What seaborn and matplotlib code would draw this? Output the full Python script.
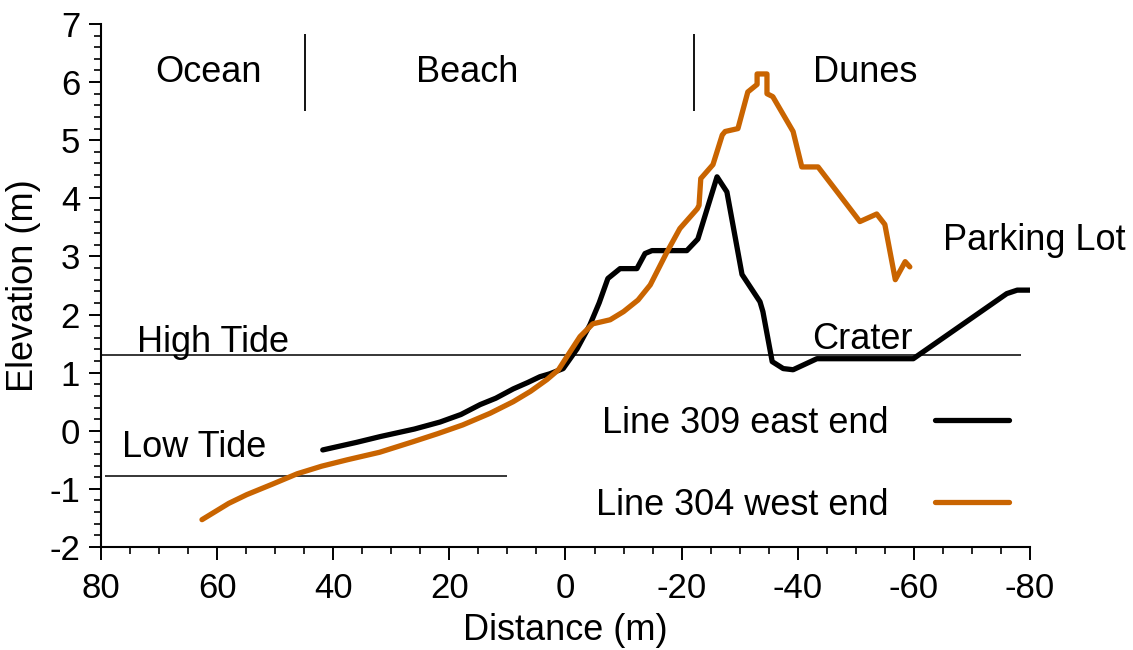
import numpy as np
import pandas as pd
import matplotlib
matplotlib.use("Agg")
import matplotlib.pyplot as plt
import seaborn as sns
from matplotlib.ticker import MultipleLocator

# Beach profile, Line 309 (east end)
east_dist = [41.8, 36.0, 31.9, 26.0, 21.6, 18.0, 14.7, 12.0, 9.0, 6.5, 4.4, 2.7,
             0.4, -2.0, -4.2, -5.8, -7.3, -9.4, -12.3, -13.7, -14.9, -20.9, -22.8,
             -26.1, -27.8, -30.4, -33.5, -34.0, -35.6, -37.5, -39.2, -43.3, -59.9,
             -76.0, -77.8, -80.0]
east_elev = [-0.33, -0.20, -0.10, 0.03, 0.15, 0.28, 0.45, 0.56, 0.72, 0.83, 0.93, 0.98,
             1.07, 1.41, 1.82, 2.20, 2.62, 2.79, 2.79, 3.05, 3.10, 3.10, 3.30,
             4.37, 4.11, 2.69, 2.22, 2.05, 1.19, 1.07, 1.05, 1.24, 1.24,
             2.36, 2.42, 2.42]

# Beach profile, Line 304 (west end)
west_dist = [62.6, 58.0, 54.9, 50.5, 46.2, 42.0, 37.6, 32.0, 26.3, 22.0, 17.7, 13.0,
             9.0, 6.0, 3.2, 1.2, -0.8, -2.5, -4.7, -7.7, -10.0, -12.5, -14.6, -17.5,
             -19.7, -22.7, -23.0, -23.3, -25.4, -27.0, -27.5, -29.7, -31.4, -33.0,
             -33.0, -34.7, -34.7, -35.7, -39.2, -40.7, -43.5, -46.8, -50.7, -53.6,
             -55.0, -56.8, -58.5, -59.3]
west_elev = [-1.53, -1.25, -1.10, -0.92, -0.74, -0.61, -0.50, -0.37, -0.19, -0.05, 0.10, 0.30,
             0.50, 0.68, 0.88, 1.05, 1.36, 1.62, 1.84, 1.91, 2.05, 2.25, 2.51, 3.08,
             3.48, 3.82, 3.88, 4.34, 4.58, 5.09, 5.15, 5.20, 5.83, 5.96,
             6.14, 6.14, 5.80, 5.75, 5.15, 4.54, 4.54, 4.11, 3.60, 3.73,
             3.55, 2.60, 2.91, 2.82]

series_names = ["Line 309 east end", "Line 304 west end"]
series_colors = ["#000000", "#C96400"]

# Tide levels
tide_names = ["High Tide", "Low Tide"]
tide_levels = [1.3, -0.78]
tide_start = [80.0, 79.3]
tide_end = [-78.5, 10.0]

# Zone boundaries and names
zone_bounds = [44.8, -22.2]
zone_names = ["Ocean", "Beach", "Dunes"]
zone_label_x = [70.7, 25.8, -42.6]

df = pd.concat([
    pd.DataFrame({"Distance": east_dist, "Elevation": east_elev, "Line": series_names[0]}),
    pd.DataFrame({"Distance": west_dist, "Elevation": west_elev, "Line": series_names[1]}),
], ignore_index=True)

sns.set_theme(style="ticks")
plt.rcParams["font.family"] = ["Liberation Sans", "DejaVu Sans"]
plt.rcParams.update({
    "axes.unicode_minus": False,
    "text.color": "black",
    "axes.labelcolor": "black",
    "xtick.color": "black",
    "ytick.color": "black",
})

FS = 26
LW = 3.8

fig = plt.figure(figsize=(11.33, 6.5), dpi=100)
ax = fig.add_axes([0.0891, 0.1585, 0.8200, 0.8046])

# Tide reference lines
for lvl, x0, x1 in zip(tide_levels, tide_start, tide_end):
    ax.hlines(lvl, x0, x1, color="black", lw=1.1, zorder=1)

# Zone separators
ax.vlines(zone_bounds, 5.5, 6.82, color="black", lw=1.3)

sns.lineplot(data=df, x="Distance", y="Elevation", hue="Line",
             palette=dict(zip(series_names, series_colors)),
             sort=False, estimator=None, lw=LW, ax=ax, zorder=3)
for line in ax.get_lines():
    line.set_solid_capstyle("round")
    line.set_solid_joinstyle("round")

txt = dict(fontsize=FS, color="black", va="baseline", ha="left")
for name, x in zip(zone_names, zone_label_x):
    ax.text(x, 6.0, name, **txt)
ax.text(73.8, 1.36, tide_names[0], **txt)
ax.text(76.4, -0.45, tide_names[1], **txt)
ax.text(-42.5, 1.41, "Crater", **txt)
ax.text(-65.0, 3.11, "Parking Lot", **txt)

ax.set_xlim(80, -80)
ax.set_ylim(-2, 7)
ax.xaxis.set_major_locator(MultipleLocator(20))
ax.xaxis.set_minor_locator(MultipleLocator(5))
ax.yaxis.set_major_locator(MultipleLocator(1))
ax.yaxis.set_minor_locator(MultipleLocator(0.2))

ax.tick_params(which="major", length=9, width=1.4, labelsize=25, pad=6, color="black")
ax.tick_params(which="minor", length=5, width=1.2, color="black")
ax.tick_params(axis="x", which="major", pad=9)

for s in ["top", "right"]:
    ax.spines[s].set_visible(False)
for s in ["left", "bottom"]:
    ax.spines[s].set_linewidth(1.5)
    ax.spines[s].set_color("black")

ax.set_xlabel("Distance (m)", fontsize=FS, labelpad=6)
ax.set_ylabel("Elevation (m)", fontsize=FS, labelpad=6)

leg = ax.legend(loc="upper right", bbox_to_anchor=(0.977, 0.27), frameon=False,
                markerfirst=False, fontsize=FS, handlelength=2.05, handletextpad=1.28,
                labelspacing=1.3, borderpad=0, borderaxespad=0)
for h in leg.legend_handles:
    h.set_linewidth(LW)

fig.savefig("out.png", dpi=100, facecolor="white")
